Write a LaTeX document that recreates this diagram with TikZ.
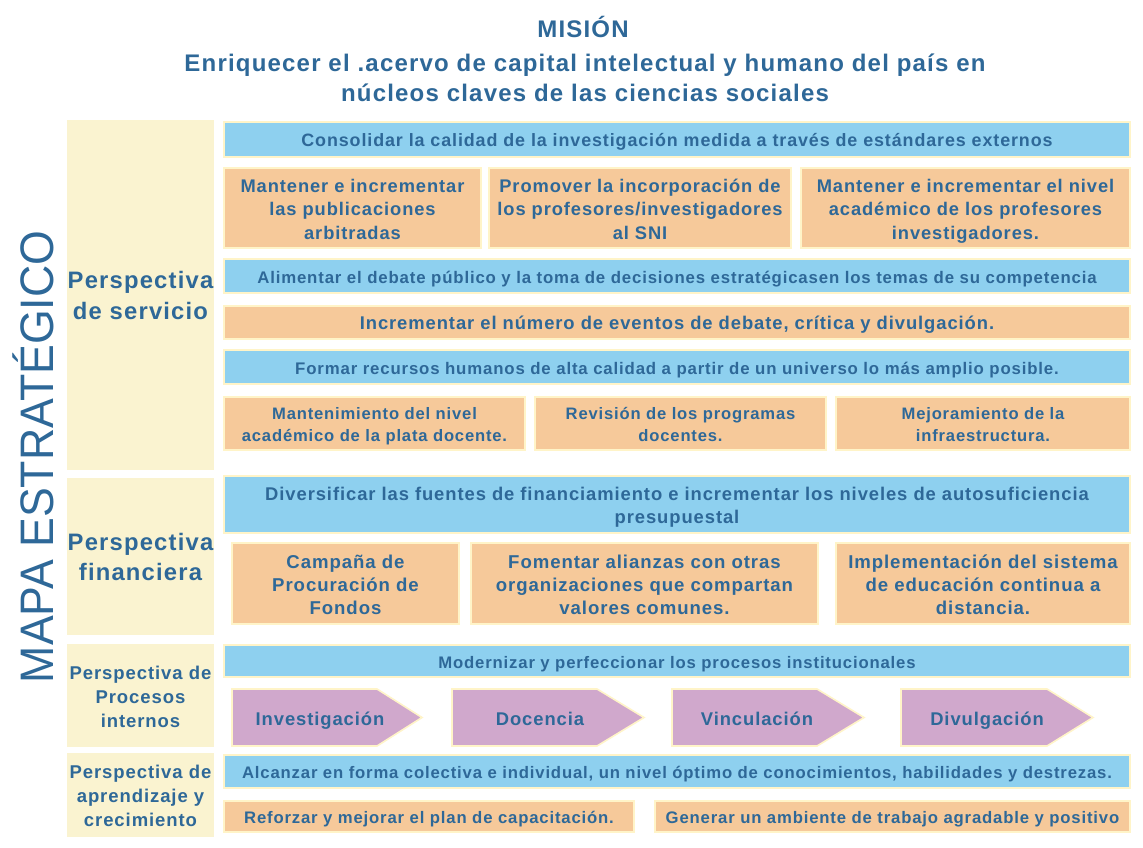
\documentclass[tikz,border=0pt]{standalone}
\usepackage{fontspec}
\setmainfont[LetterSpace=5]{Liberation Sans}
\newfontfamily\mapfont[FakeStretch=0.95]{Liberation Sans}
\definecolor{txt}{RGB}{46,104,152}
\definecolor{blu}{RGB}{142,208,239}
\definecolor{ora}{RGB}{246,201,154}
\definecolor{pur}{RGB}{208,168,204}
\definecolor{crm}{RGB}{250,243,208}
\definecolor{edg}{RGB}{255,244,200}
\tikzset{
  fs/.style 2 args={font=\bfseries\fontsize{#1}{#2}\selectfont},
  bx/.style={draw=edg, line width=1.2pt, inner sep=0pt, align=center, text=txt},
  bluebox/.style={bx, fill=blu},
  orabox/.style={bx, fill=ora},
  crmbox/.style={fill=crm, inner sep=0pt, align=center, text=txt},
  arrowshape/.style={draw=edg, line width=1.6pt, fill=pur, line join=miter},
  arrowtext/.style={text=txt, inner sep=0pt, anchor=base, fs={18.4}{22}},
  titletext/.style={text=txt, align=center, inner sep=0pt, anchor=base},
}
% top strut that lowers the text block by 3pt inside its box
\newcommand\lowstrut{\rule{0pt}{\dimexpr0.7\baselineskip+6pt\relax}}
% name x1 y1 x2 y2 style text
\newcommand\rbox[7]{%
  \node[#6, minimum width={(#4-#2)*1pt}, minimum height={(#5-#3)*1pt}] (#1) at ({(#2+#4)/2},{(#3+#5)/2}) {\lowstrut#7};}
\newcommand\chevron[3]{% x1 x2 xtip
  \path[arrowshape] (#1,689) -- (#2,689) -- (#3,717.5) -- (#2,746) -- (#1,746) -- cycle;}
\begin{document}
\begin{tikzpicture}[x=1pt,y=-1pt]
\useasboundingbox (0,0) rectangle (1143,847);
\fill[white] (0,0) rectangle (1143,847);

% title
\node[titletext, fs={24}{28}] (mision) at (583,37) {MISIÓN};
\node[titletext, fs={24}{28}] (mis1) at (585,71) {Enriquecer el .acervo de capital intelectual y humano del país en};
\node[titletext, fs={24}{28}] (mis2) at (585,101) {núcleos claves de las ciencias sociales};

% vertical label
\node[text=txt, rotate=90, anchor=base, inner sep=0pt] (mapa) at (53,457) {\mapfont\fontsize{47}{50}\selectfont MAPA ESTRATÉGICO};

% left column
\rbox{ps}{67}{120}{214}{470}{crmbox, fs={23.8}{31}}{\strut Perspectiva\\\strut de servicio}
\rbox{pf}{67}{478}{214}{635}{crmbox, fs={23.8}{30}}{\strut Perspectiva\\\strut financiera}
\rbox{pp}{67}{644}{214}{747}{crmbox, fs={18.5}{24}}{\strut Perspectiva de\\\strut Procesos\\\strut internos}
\rbox{pa}{67}{753}{214}{837}{crmbox, fs={18.5}{24}}{\strut Perspectiva de\\\strut aprendizaje y\\\strut crecimiento}

% servicio
\rbox{s1}{224}{122}{1130}{157}{bluebox, fs={17.9}{20}}{\strut Consolidar la calidad de la investigación medida a través de estándares externos}
\rbox{s2a}{224}{168}{481}{248}{orabox, fs={18.3}{23.5}}{\strut Mantener e incrementar\\\strut las publicaciones\\\strut arbitradas}
\rbox{s2b}{489}{168}{791}{248}{orabox, fs={18.3}{23.5}}{\strut Promover la incorporación de\\\strut los profesores/investigadores\\\strut al SNI}
\rbox{s2c}{801}{168}{1130}{248}{orabox, fs={18.3}{23.5}}{\strut Mantener e incrementar el nivel\\\strut académico de los profesores\\\strut investigadores.}
\rbox{s3}{224}{259}{1130}{293}{bluebox, fs={16.8}{20}}{\strut Alimentar el debate público y la toma de decisiones estratégicasen los temas de su competencia}
\rbox{s4}{224}{306}{1130}{339}{orabox, fs={18.4}{20}}{\strut Incrementar el número de eventos de debate, crítica y divulgación.}
\rbox{s5}{224}{350}{1130}{384}{bluebox, fs={16.8}{20}}{\strut Formar recursos humanos de alta calidad a partir de un universo lo más amplio posible.}
\rbox{s6a}{224}{397}{525}{450}{orabox, fs={16.6}{22}}{\strut Mantenimiento del nivel\\\strut académico de la plata docente.}
\rbox{s6b}{535}{397}{826}{450}{orabox, fs={16.6}{22}}{\strut Revisión de los programas\\\strut docentes.}
\rbox{s6c}{836}{397}{1130}{450}{orabox, fs={16.6}{22}}{\strut Mejoramiento de la\\\strut infraestructura.}

% financiera
\rbox{f1}{224}{476}{1130}{533}{bluebox, fs={18.4}{23}}{\strut Diversificar las fuentes de financiamiento e incrementar los niveles de autosuficiencia\\\strut presupuestal}
\rbox{f2a}{232}{543}{459}{624}{orabox, fs={18.6}{23}}{\strut Campaña de\\\strut Procuración de\\\strut Fondos}
\rbox{f2b}{471}{543}{818}{624}{orabox, fs={18.6}{23}}{\strut Fomentar alianzas con otras\\\strut organizaciones que compartan\\\strut valores comunes.}
\rbox{f2c}{836}{543}{1130}{624}{orabox, fs={18.6}{23}}{\strut Implementación del sistema\\\strut de educación continua a\\\strut distancia.}

% procesos
\rbox{p1}{224}{645}{1130}{677}{bluebox, fs={16.7}{20}}{\strut Modernizar y perfeccionar los procesos institucionales}
\chevron{232}{377}{422}
\chevron{452}{597}{644}
\chevron{672}{817}{864}
\chevron{901}{1047}{1093}
\node[arrowtext] (inv) at (320,725) {Investigación};
\node[arrowtext] (doc) at (540,725) {Docencia};
\node[arrowtext] (vin) at (757,725) {Vinculación};
\node[arrowtext] (div) at (987,725) {Divulgación};

% aprendizaje
\rbox{a1}{224}{755}{1130}{788}{bluebox, fs={16.7}{20}}{\strut Alcanzar en forma colectiva e individual, un nivel óptimo de conocimientos, habilidades y destrezas.}
\rbox{a2a}{224}{801}{634}{832}{orabox, fs={16.7}{20}}{\strut Reforzar y mejorar el plan de capacitación.}
\rbox{a2b}{655}{801}{1130}{832}{orabox, fs={16.7}{20}}{\strut Generar un ambiente de trabajo agradable y positivo}
\end{tikzpicture}
\end{document}
